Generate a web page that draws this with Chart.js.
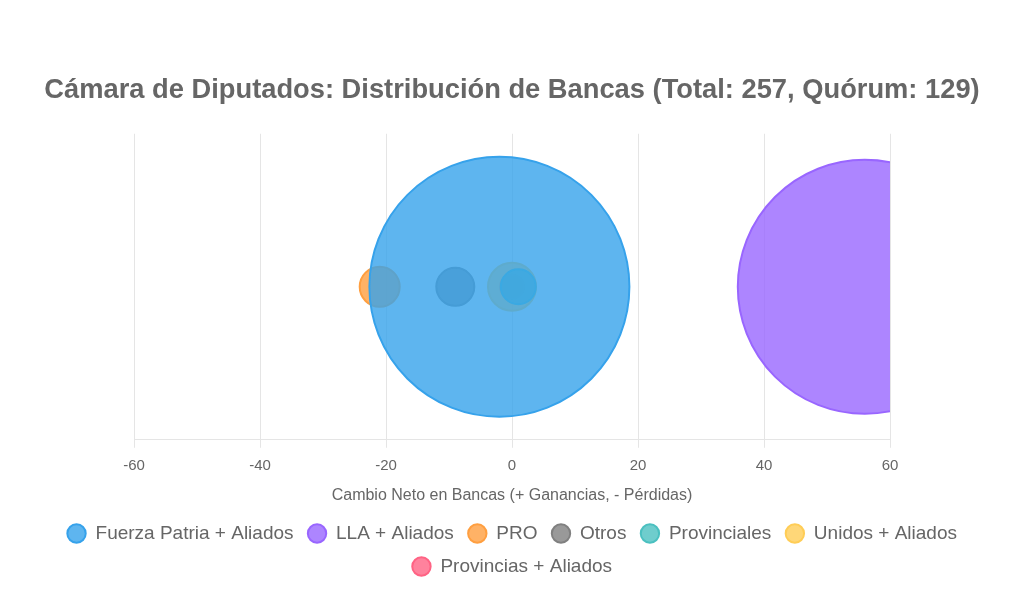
<!DOCTYPE html>
<html>
<head>
<meta charset="utf-8">
<script src="https://cdn.jsdelivr.net/npm/chart.js@4"></script>
<style>
  html, body { margin: 0; padding: 0; background: #fff; }
  #wrap { width: 1024px; height: 590px; }
</style>
</head>
<body>
<div id="wrap"><canvas id="chart"></canvas></div>
<script>
// DATA
const parties = ["Fuerza Patria + Aliados", "LLA + Aliados", "PRO", "Otros", "Provinciales", "Unidos + Aliados", "Provincias + Aliados"];
const netChange = [[-2], [56], [-21], [-9], [1], [0], [0]];
const bubbleSize = [[130], [127], [20], [19], [17.5], [24], [12]];
const colors = [
  [54, 162, 235],
  [153, 102, 255],
  [255, 159, 64],
  [128, 128, 128],
  [75, 192, 192],
  [255, 205, 86],
  [255, 99, 132]
];
const xTicks = [-60, -40, -20, 0, 20, 40, 60];

const datasets = parties.map((name, i) => ({
  label: name,
  data: netChange[i].map((x, j) => ({ x: x, y: 0, r: bubbleSize[i][j] })),
  backgroundColor: `rgba(${colors[i].join(",")}, 0.8)`,
  borderColor: `rgb(${colors[i].join(",")})`,
  borderWidth: 2
}));

// side axes only reserve room, nothing drawn
const sideAxis = pos => ({
  position: pos,
  min: -1,
  max: 1,
  grid: { display: false },
  border: { display: false },
  ticks: { display: false },
  afterFit: s => { s.width = 134; }
});

// CHART
Chart.defaults.font.family = "'Liberation Sans', Arial, sans-serif";
const ctx = document.getElementById("chart");

new Chart(ctx, {
  type: "bubble",
  data: { datasets: datasets },
  options: {
    responsive: true,
    maintainAspectRatio: false,
    animation: false,
    layout: { padding: { top: 0, left: 0, right: 0, bottom: 4 } },
    plugins: {
      title: {
        display: true,
        text: "Cámara de Diputados: Distribución de Bancas (Total: 257, Quórum: 129)",
        color: "#666",
        font: { size: 27.3, weight: "bold" },
        padding: { top: 74, bottom: 27 }
      },
      legend: {
        position: "bottom",
        labels: {
          usePointStyle: true,
          pointStyle: "circle",
          boxHeight: 13,
          color: "#666",
          font: { size: 19 },
          padding: 14
        }
      },
      tooltip: { enabled: false }
    },
    scales: {
      x: {
        min: -60,
        max: 60,
        afterBuildTicks: axis => { axis.ticks = xTicks.map(v => ({ value: v })); },
        ticks: { color: "#666", font: { size: 15 }, padding: 9 },
        title: {
          display: true,
          text: "Cambio Neto en Bancas (+ Ganancias, - Pérdidas)",
          color: "#666",
          font: { size: 16 },
          padding: { top: 2, bottom: 5 }
        }
      },
      y: sideAxis("left"),
      y2: sideAxis("right")
    }
  }
});
</script>
</body>
</html>
